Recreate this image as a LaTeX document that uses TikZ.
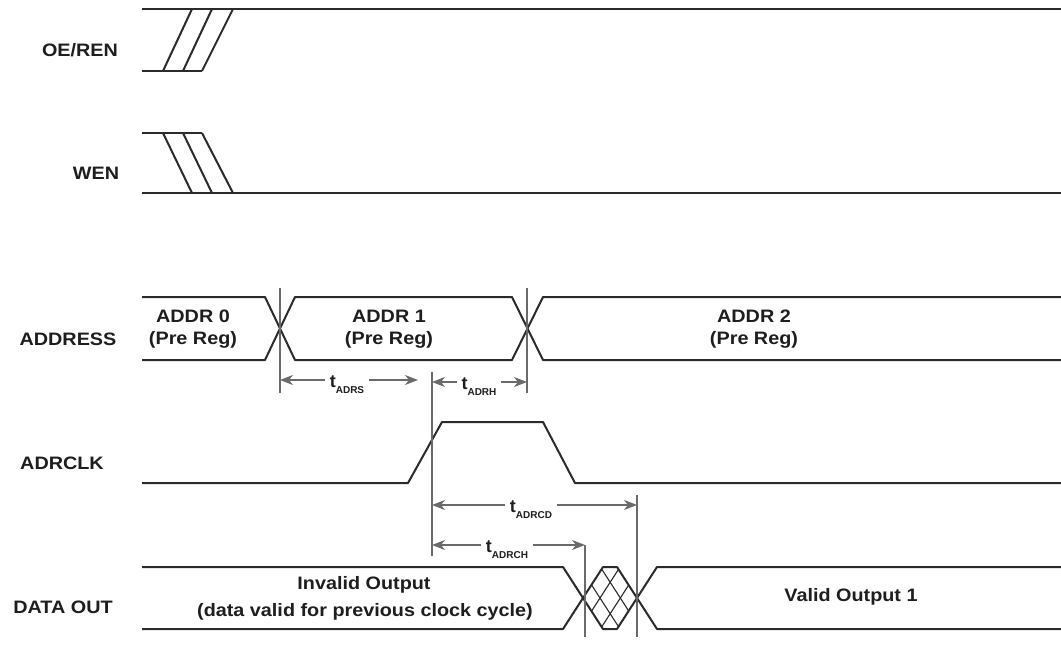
\documentclass[tikz,border=0pt]{standalone}
\usepackage{fontspec}
\setmainfont{Liberation Sans}
\usetikzlibrary{arrows.meta}
\definecolor{sig}{HTML}{2B2B2B}
\definecolor{markc}{HTML}{6A6A6A}
\definecolor{txt}{HTML}{1E1E1E}
\newcommand{\tlab}[1]{t{\fontsize{10}{10}\selectfont\raisebox{-6pt}{#1}}}
\begin{document}
\begin{tikzpicture}[x=1pt,y=-1pt,
  sigline/.style={draw=sig,line width=2pt,line join=round},
  hatch/.style={draw=sig,line width=1.1pt},
  marker/.style={draw=markc,line width=1.3pt},
  timearrow/.style={draw=markc,line width=1.3pt,{Stealth[length=13pt,width=10pt,inset=4pt]}-{Stealth[length=13pt,width=10pt,inset=4pt]}},
  lbl/.style={font=\bfseries\fontsize{18}{22}\selectfont,text=txt,xscale=1.1,inner sep=0pt,align=center},
  tl/.style={font=\bfseries\fontsize{18}{19}\selectfont,text=txt,fill=white,inner xsep=5pt,inner ysep=1pt}]
\useasboundingbox[fill=white] (0,0) rectangle (1061,645);

% signal names
\node[lbl] (nOE) at (80,50) {OE/REN};
\node[lbl] (nWEN) at (96,173) {WEN};
\node[lbl] (nADDR) at (68,339) {ADDRESS};
\node[lbl] (nCLK) at (62,463) {ADRCLK};
\node[lbl] (nDATA) at (63,607) {DATA OUT};

% OE/REN
\draw[sigline] (142,9) -- (1061,9);
\draw[sigline] (142,71) -- (202,71);
\draw[sigline] (163,71) -- (192,9);
\draw[sigline] (183,71) -- (212,9);
\draw[sigline] (202,71) -- (233,9);

% WEN
\draw[sigline] (142,133) -- (202,133);
\draw[sigline] (142,193) -- (1061,193);
\draw[sigline] (163,133) -- (192,193);
\draw[sigline] (183,133) -- (212,193);
\draw[sigline] (202,133) -- (233,193);

% ADDRESS
\draw[sigline] (142,297) -- (265,297) -- (295,360) -- (512,360) -- (543,297) -- (1061,297);
\draw[sigline] (142,360) -- (265,360) -- (295,297) -- (512,297) -- (543,360) -- (1061,360);
\node[lbl] (a0) at (193,329) {ADDR 0\\(Pre Reg)};
\node[lbl] (a1) at (389,329) {ADDR 1\\(Pre Reg)};
\node[lbl] (a2) at (754,329) {ADDR 2\\(Pre Reg)};

% ADRCLK
\draw[sigline] (142,483) -- (408,483) -- (442,422) -- (543,422) -- (575,483) -- (1061,483);

% DATA OUT
\draw[sigline] (142,567) -- (563,567) -- (603,629) -- (617,629) -- (657,567) -- (1061,567);
\draw[sigline] (142,629) -- (563,629) -- (603,567) -- (617,567) -- (657,629) -- (1061,629);
\begin{scope}
  \clip (583,598) -- (603,567) -- (617,567) -- (637,598) -- (617,629) -- (603,629) -- cycle;
  \draw[hatch] (580,629) -- (620,567);
  \draw[hatch] (590,645) -- (630,583);
  \draw[hatch] (590,551) -- (630,613);
  \draw[hatch] (580,567) -- (620,629);
\end{scope}
\node[lbl] (inv1) at (364,585) {Invalid Output};
\node[lbl] (inv2) at (365,612) {(data valid for previous clock cycle)};
\node[lbl] (val) at (851,597) {Valid Output 1};

% timing markers
\coordinate (m1t) at (280,288); \coordinate (m1b) at (280,393);
\coordinate (m2t) at (527,288); \coordinate (m2b) at (527,393);
\coordinate (m3t) at (432,372); \coordinate (m3b) at (432,556);
\coordinate (m4t) at (585,545); \coordinate (m4b) at (585,637);
\coordinate (m5t) at (637,495); \coordinate (m5b) at (637,637);
\draw[marker] (m1t) -- (m1b);
\draw[marker] (m2t) -- (m2b);
\draw[marker] (m3t) -- (m3b);
\draw[marker] (m4t) -- (m4b);
\draw[marker] (m5t) -- (m5b);

% timing arrows
\coordinate (s1) at (280,380); \coordinate (s2) at (418,380);
\coordinate (h1) at (432,382); \coordinate (h2) at (527,382);
\coordinate (cd1) at (432,505); \coordinate (cd2) at (637,505);
\coordinate (ch1) at (432,545); \coordinate (ch2) at (585,545);
\draw[timearrow] (s1) -- (s2);
\draw[timearrow] (h1) -- (h2);
\draw[timearrow] (cd1) -- (cd2);
\draw[timearrow] (ch1) -- (ch2);
\node[tl] (tADRS) at (347,385) {\tlab{ADRS}};
\node[tl] (tADRH) at (479,387) {\tlab{ADRH}};
\node[tl] (tADRCD) at (531,510) {\tlab{ADRCD}};
\node[tl] (tADRCH) at (507,550) {\tlab{ADRCH}};
\end{tikzpicture}
\end{document}
